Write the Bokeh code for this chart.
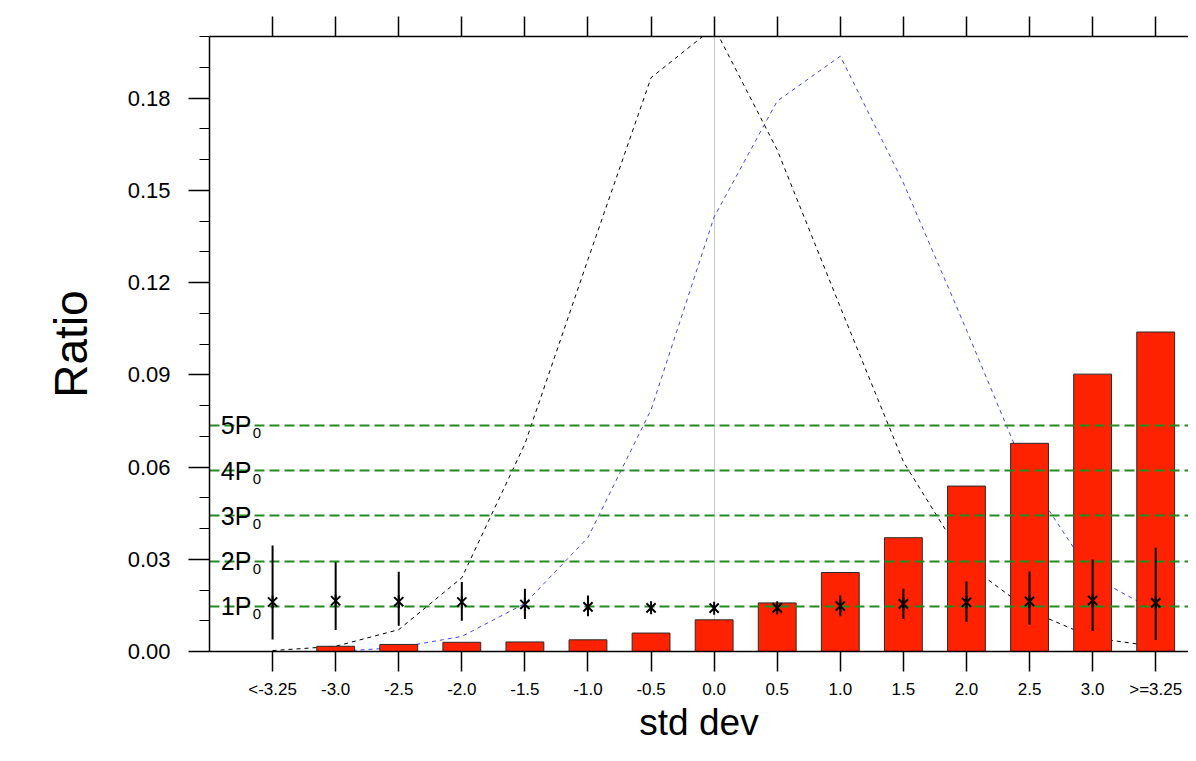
import numpy as np
from bokeh.plotting import figure
from bokeh.models import Range1d, FixedTicker, LinearAxis, NumeralTickFormatter
from bokeh.core.properties import value
from bokeh.embed import file_html
from bokeh.resources import INLINE

# ---- data ----
categories = ["<-3.25", "-3.0", "-2.5", "-2.0", "-1.5", "-1.0", "-0.5", "0.0",
              "0.5", "1.0", "1.5", "2.0", "2.5", "3.0", ">=3.25"]
bar_ratio = [0.0, 0.0017, 0.0023, 0.0030, 0.0031, 0.0038, 0.0060, 0.0103,
             0.0158, 0.0257, 0.0370, 0.0538, 0.0677, 0.0902, 0.1039]
mean_ratio = [0.0161, 0.0165, 0.0162, 0.0161, 0.0153, 0.0145, 0.0142, 0.0141,
              0.0142, 0.0148, 0.0155, 0.0160, 0.0163, 0.0166, 0.0158]
err_low = [0.0039, 0.0070, 0.0084, 0.0100, 0.0106, 0.0115, 0.0138, 0.0138,
           0.0139, 0.0115, 0.0106, 0.0097, 0.0087, 0.0067, 0.0037]
err_high = [0.0345, 0.0290, 0.0259, 0.0226, 0.0204, 0.0182, 0.0146, 0.0144,
            0.0145, 0.0182, 0.0204, 0.0228, 0.0260, 0.0299, 0.0337]
dist_black = [0.0003, 0.0017, 0.0071, 0.0240, 0.0675, 0.1275, 0.1866, 0.2030,
              0.1631, 0.1120, 0.0617, 0.0286, 0.0133, 0.0045, 0.0016]
dist_blue = [0.0, 0.0, 0.0013, 0.0049, 0.0156, 0.0371, 0.0786, 0.1413,
             0.1790, 0.1936, 0.1524, 0.1046, 0.0555, 0.0244, 0.0131]
P0 = 0.0147
multiples = [1, 2, 3, 4, 5]
y_ticks = [0.00, 0.03, 0.06, 0.09, 0.12, 0.15, 0.18]
y_minor = [round(i * 0.01, 2) for i in range(21)]

positions = list(range(len(categories)))
FONT = "Liberation Sans"

p = figure(width=1188, height=745, output_backend="svg", toolbar_location=None,
           x_range=Range1d(-1, 14.52), y_range=Range1d(0, 0.2),
           min_border_left=209, min_border_top=36, min_border_right=0,
           min_border_bottom=93)
p.outline_line_color = None
p.grid.visible = False
p.background_fill_color = "white"

# left axis
ya = p.yaxis[0]
ya.ticker = FixedTicker(ticks=y_ticks, minor_ticks=y_minor)
ya.formatter = NumeralTickFormatter(format="0.00")
ya.major_tick_out = 21
ya.major_tick_in = 0
ya.minor_tick_out = 10
ya.minor_tick_in = 0
ya.major_label_standoff = 18
ya.major_label_text_font = FONT
ya.major_label_text_font_size = "22px"
ya.major_label_text_color = "black"
ya.axis_label = "Ratio"
ya.axis_label_text_font = FONT
ya.axis_label_text_font_size = "46px"
ya.axis_label_text_font_style = "normal"
ya.axis_label_text_color = "black"
ya.axis_label_standoff = 28
ya.axis_line_width = 1.5
ya.major_tick_line_width = 1.5
ya.minor_tick_line_width = 1

# bottom axis
xa = p.xaxis[0]
xa.ticker = FixedTicker(ticks=positions, minor_ticks=[])
xa.major_label_overrides = {i: c for i, c in zip(positions, categories)}
xa.major_tick_out = 20
xa.major_tick_in = 0
xa.minor_tick_out = 0
xa.major_label_standoff = 8
xa.major_label_text_font = FONT
xa.major_label_text_font_size = "17px"
xa.major_label_text_color = "black"
xa.axis_label = "std dev"
xa.axis_label_text_font = FONT
xa.axis_label_text_font_size = "37px"
xa.axis_label_text_font_style = "normal"
xa.axis_label_text_color = "black"
xa.axis_label_standoff = 0
xa.axis_line_width = 1.5
xa.major_tick_line_width = 1.5

# top axis (ticks only, empty labels)
top = LinearAxis(ticker=FixedTicker(ticks=positions, minor_ticks=[]),
                 major_tick_out=20, major_tick_in=0, minor_tick_out=0,
                 major_label_overrides={i: "" for i in positions},
                 major_label_text_font_size="10px", major_label_standoff=0,
                 axis_line_width=1.5, major_tick_line_width=1.5)
p.add_layout(top, "above")

# vertical reference line at 0.0
p.vspan(x=[positions[categories.index("0.0")]], line_color="#cccccc", line_width=1)

# distribution curves
p.line(positions, dist_black, line_color="black", line_width=1, line_dash="4 4")
p.line(positions, dist_blue, line_color="#4444f4", line_width=1, line_dash="4 4")

# bars
p.vbar(x=positions, top=bar_ratio, bottom=0, width=0.6,
       fill_color="#FF2200", line_color="#2a2a2a", line_width=1)

# P0 multiples
p_levels = [k * P0 for k in multiples]
p.hspan(y=p_levels, line_color="#228B22", line_width=2, line_dash="10 5")
p.text(x=[-0.82] * len(multiples), y=p_levels, text=[f"{k}P" for k in multiples],
       text_font=value(FONT), text_font_size="25px", text_baseline="middle",
       text_align="left", text_color="black")
p.text(x=[-0.82] * len(multiples), y=p_levels, text=["0"] * len(multiples),
       x_offset=32, y_offset=8,
       text_font=value(FONT), text_font_size="15px", text_baseline="middle",
       text_align="left", text_color="black")

# error bars and markers
p.segment(x0=positions, y0=err_low, x1=positions, y1=err_high,
          line_color="black", line_width=2)
p.scatter(positions, mean_ratio, marker="x", size=13, line_width=2, line_color="black")
p.scatter(positions, mean_ratio, marker="dash", angle=np.pi / 2, size=13,
          line_width=2, line_color="black")

open("out.html", "w").write(file_html(p, INLINE))
